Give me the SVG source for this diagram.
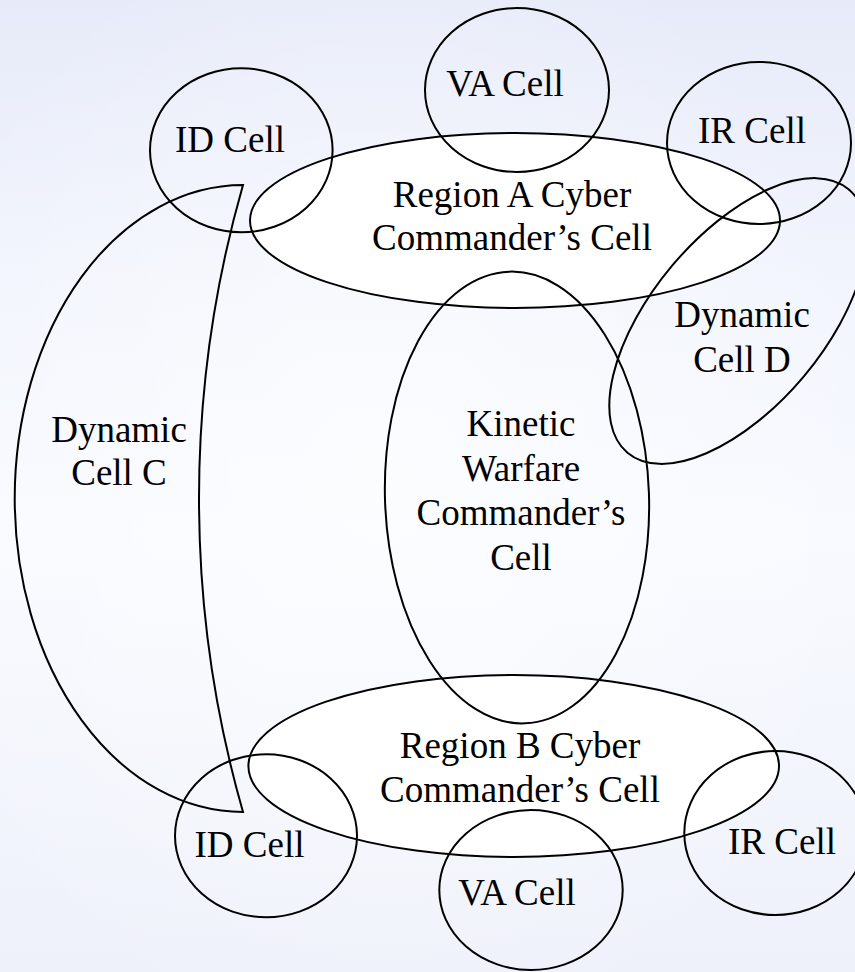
<svg xmlns="http://www.w3.org/2000/svg" width="855" height="972" viewBox="0 0 855 972">
  <defs>
    <linearGradient id="bg" x1="0" y1="0" x2="0" y2="1">
      <stop offset="0" stop-color="#e7ebf9"/>
      <stop offset="0.3" stop-color="#f2f5fd"/>
      <stop offset="0.55" stop-color="#f8faff"/>
      <stop offset="1" stop-color="#eef1fa"/>
    </linearGradient>
    <radialGradient id="glow" cx="0.45" cy="0.5" r="0.6">
      <stop offset="0" stop-color="#ffffff" stop-opacity="0.6"/>
      <stop offset="1" stop-color="#ffffff" stop-opacity="0"/>
    </radialGradient>
  </defs>
  <style>
    .shape { fill: none; stroke: #000; stroke-width: 2; }
    .region { fill: #ffffff; stroke: #000; stroke-width: 2; }
    .lbl { font-size: 37px; fill: #000; text-anchor: middle; }
  </style>
  <rect x="0" y="0" width="855" height="972" fill="url(#bg)"/>
  <rect x="0" y="0" width="855" height="972" fill="url(#glow)"/>

  <g font-family="Liberation Serif, Times New Roman, Times, serif">
  <g id="region-a">
    <ellipse class="region" cx="515" cy="220.5" rx="265" ry="87.5"/>
    <text class="lbl" x="512" y="207">Region A Cyber</text>
    <text class="lbl" x="512" y="250">Commander’s Cell</text>
  </g>
  <g id="region-b">
    <ellipse class="region" cx="513.7" cy="766" rx="265.3" ry="91"/>
    <text class="lbl" x="520" y="758">Region B Cyber</text>
    <text class="lbl" x="520" y="802">Commander’s Cell</text>
  </g>
  <g id="kinetic">
    <ellipse class="shape" cx="517" cy="497.5" rx="132" ry="226" transform="rotate(-2 517 497.5)"/>
    <text class="lbl" x="521" y="436">Kinetic</text>
    <text class="lbl" x="521" y="481">Warfare</text>
    <text class="lbl" x="521" y="525">Commander’s</text>
    <text class="lbl" x="521" y="570">Cell</text>
  </g>
  <g id="dynamic-c">
    <path class="shape" d="M243 185 A228 313 0 0 0 243 812 A1139 1139 0 0 1 243 185 Z"/>
    <text class="lbl" x="119" y="442">Dynamic</text>
    <text class="lbl" x="119" y="485">Cell C</text>
  </g>
  <g id="dynamic-d">
    <ellipse class="shape" cx="738" cy="321" rx="172" ry="86" transform="rotate(-50 738 321)"/>
    <text class="lbl" x="742" y="327">Dynamic</text>
    <text class="lbl" x="742" y="372">Cell D</text>
  </g>
  <g id="va-top">
    <ellipse class="shape" cx="517" cy="90" rx="92" ry="82"/>
    <text class="lbl" x="505" y="96">VA Cell</text>
  </g>
  <g id="id-top">
    <ellipse class="shape" cx="241.3" cy="150.2" rx="91.3" ry="82"/>
    <text class="lbl" x="230" y="152">ID Cell</text>
  </g>
  <g id="ir-top">
    <ellipse class="shape" cx="759" cy="143" rx="92" ry="81"/>
    <text class="lbl" x="752" y="143">IR Cell</text>
  </g>
  <g id="id-bottom">
    <ellipse class="shape" cx="266" cy="835.8" rx="91" ry="81.5"/>
    <text class="lbl" x="249.5" y="857">ID Cell</text>
  </g>
  <g id="va-bottom">
    <ellipse class="shape" cx="531" cy="890" rx="91.7" ry="80"/>
    <text class="lbl" x="517" y="905">VA Cell</text>
  </g>
  <g id="ir-bottom">
    <ellipse class="shape" cx="775.3" cy="833" rx="91" ry="82"/>
    <text class="lbl" x="782" y="854">IR Cell</text>
  </g>
  </g>
  <g id="connectors"/>
</svg>
